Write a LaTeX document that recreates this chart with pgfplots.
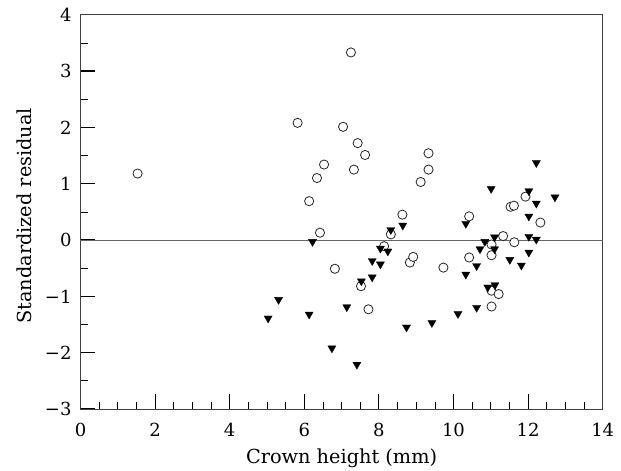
\documentclass[border=0pt]{standalone}
\usepackage{fontspec}
\setmainfont{DejaVu Serif}
\usepackage{pgfplots}
\pgfplotsset{compat=1.18}
\begin{document}
\begin{tikzpicture}
\begin{axis}[
  scale only axis,
  width=522.2pt, height=394.3pt,
  xmin=0, xmax=14, ymin=-3, ymax=4,
  xtick={0,2,...,14}, ytick={-3,...,4},
  yticklabels={−3,−2,−1,0,1,2,3,4},
  minor x tick num=3, minor y tick num=1,
  tick pos=left, tick align=inside,
  major tick length=15pt, minor tick length=7.5pt,
  major tick style={line width=1.1pt, black},
  minor tick style={line width=0.7pt, black},
  axis line style={line width=0.9pt, black!75},
  /pgf/number format/assume math mode=true,
  tick label style={font=\fontsize{18pt}{21pt}\selectfont, inner sep=0pt},
  yticklabel style={anchor=east, xshift=-8.8pt},
  xticklabel style={anchor=north, yshift=-13.7pt},
  label style={font=\fontsize{19.3pt}{23pt}\selectfont},
  xlabel={Crown height (mm)},
  ylabel={Standardized residual},
  xlabel style={at={([yshift=-54.3pt]axis description cs:0.5,0)}, anchor=base},
  ylabel style={at={([xshift=-48.8pt,yshift=-4pt]axis description cs:0,0.5)}, anchor=base, rotate=0},
  clip=false,
]
\coordinate (O) at (rel axis cs:0,0);
\addplot[black!60, line width=1pt] coordinates {(0,0) (14,0)};
\addplot[only marks, mark=*, mark size=4.6pt,
  mark options={draw=black!85, fill=white, line width=0.8pt}] coordinates {
(1.53,1.18) (5.82,2.08) (6.13,0.69) (6.34,1.10) (6.53,1.34) (6.42,0.13)
(6.82,-0.51) (7.04,2.01) (7.25,3.33) (7.33,1.25) (7.43,1.72) (7.63,1.51)
(7.52,-0.82) (7.72,-1.23) (8.14,-0.11) (8.32,0.10) (8.63,0.45) (8.83,-0.40)
(8.92,-0.30) (9.12,1.03) (9.33,1.25) (9.33,1.54) (9.73,-0.49) (10.42,0.42)
(10.42,-0.31) (11.02,-0.08) (11.02,-0.27) (11.02,-0.90) (11.21,-0.96) (11.02,-1.18)
(11.33,0.07) (11.53,0.59) (11.62,0.61) (11.63,-0.04) (11.93,0.77) (12.33,0.31)
};
\addplot[only marks, mark=triangle*, mark size=4.7pt,
  mark options={rotate=180, draw=black, fill=black, line width=0.3pt}] coordinates {
(5.03,-1.39) (5.31,-1.06) (6.13,-1.32) (6.22,-0.03) (6.74,-1.92) (7.14,-1.19)
(7.41,-2.21) (7.53,-0.73) (7.82,-0.66) (7.82,-0.37) (8.04,-0.43) (8.04,-0.15)
(8.24,-0.20) (8.32,0.18) (8.64,0.26) (8.74,-1.55) (9.42,-1.47) (10.12,-1.31)
(10.33,0.29) (10.33,-0.61) (10.62,-0.46) (10.62,-1.20) (10.71,-0.16) (10.84,-0.03)
(10.92,-0.84) (11.01,0.91) (11.10,0.05) (11.10,-0.16) (11.11,-0.80) (11.51,-0.35)
(11.82,-0.45) (12.02,0.87) (12.02,0.42) (12.02,0.06) (12.02,-0.22) (12.22,1.37)
(12.22,0.65) (12.22,0.01) (12.72,0.76)
};
\end{axis}
\pgfresetboundingbox
\path[use as bounding box] ([shift={(-80.5pt,-62pt)}]O) rectangle ++(621pt,471pt);
\end{tikzpicture}
\end{document}
